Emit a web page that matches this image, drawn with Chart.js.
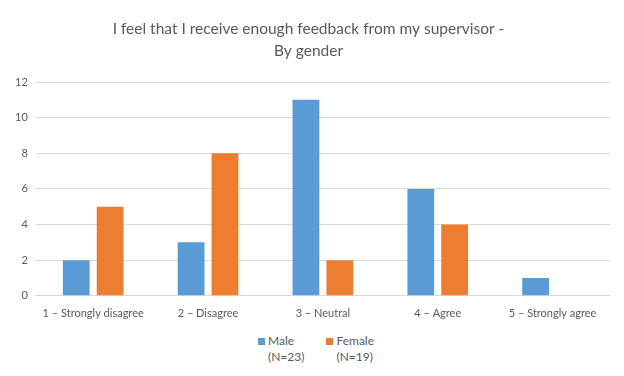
<!DOCTYPE html>
<html>
<head>
<meta charset="utf-8">
<script src="https://cdn.jsdelivr.net/npm/chart.js@4"></script>
<style>
    html, body { margin: 0; padding: 0; background: #fff; }
    #wrap { position: relative; width: 624px; height: 376px; }
    #chartBox { position: absolute; left: 0; top: 0; width: 624px; height: 327px; }
    #legend { position: absolute; left: 4px; top: 333px; width: 624px; display: flex; justify-content: center; font-family: Lato, 'Noto Sans', sans-serif; font-size: 12px; color: #595959; line-height: 16px; }
    .legend-item { display: flex; align-items: flex-start; margin: 0 11px; }
    .legend-box { width: 7px; height: 7px; margin-top: 5px; margin-right: 3px; }
</style>
</head>
<body>
<div id="wrap">
    <div id="chartBox"><canvas id="genderChart"></canvas></div>
    <div id="legend"></div>
</div>
<script>
const categories = ["1 – Strongly disagree", "2 – Disagree", "3 – Neutral", "4 – Agree", "5 – Strongly agree"];
const maleValues = [2, 3, 11, 6, 1];
const femaleValues = [5, 8, 2, 4, 0];
const seriesNames = [["Male", "(N=23)"], ["Female", "(N=19)"]];
const seriesColors = ["#5B9BD5", "#ED7D31"];
const titleLines = ["I feel that I receive enough feedback from my supervisor -", "By gender"];

const fontFamily = "Lato, 'Noto Sans', sans-serif";
const textColor = "#595959";

const ctx = document.getElementById("genderChart").getContext("2d");
const genderChart = new Chart(ctx, {
    type: "bar",
    data: {
        labels: categories,
        datasets: [
            {
                label: "Male",
                data: maleValues,
                backgroundColor: seriesColors[0],
                categoryPercentage: 0.59,
                barPercentage: 0.79,
            },
            {
                label: "Female",
                data: femaleValues,
                backgroundColor: seriesColors[1],
                categoryPercentage: 0.59,
                barPercentage: 0.79,
            },
        ],
    },
    options: {
        responsive: true,
        maintainAspectRatio: false,
        animation: false,
        layout: {
            padding: { left: 7, right: 14, top: 11, bottom: 4 },
        },
        plugins: {
            title: {
                display: true,
                text: titleLines,
                color: textColor,
                font: { family: fontFamily, size: 15.5, weight: "normal", lineHeight: 1.42 },
                padding: { top: 7, bottom: 20 },
            },
            legend: { display: false },
            tooltip: { enabled: false },
        },
        scales: {
            x: {
                grid: { display: false },
                border: { color: "#d9d9d9" },
                ticks: {
                    color: textColor,
                    font: { family: fontFamily, size: 11 },
                    maxRotation: 0,
                    padding: 3,
                },
            },
            y: {
                min: 0,
                max: 12,
                ticks: {
                    stepSize: 2,
                    color: textColor,
                    font: { family: fontFamily, size: 11 },
                    padding: 8,
                },
                grid: { color: "#d9d9d9", drawTicks: false },
                border: { display: false },
            },
        },
    },
});

// html legend, two lines per item
const legendEl = document.getElementById("legend");
seriesNames.forEach((name, i) => {
    const item = document.createElement("div");
    item.className = "legend-item";
    const box = document.createElement("div");
    box.className = "legend-box";
    box.style.background = seriesColors[i];
    const txt = document.createElement("div");
    txt.innerHTML = name.join("<br>");
    item.appendChild(box);
    item.appendChild(txt);
    legendEl.appendChild(item);
});
</script>
</body>
</html>
